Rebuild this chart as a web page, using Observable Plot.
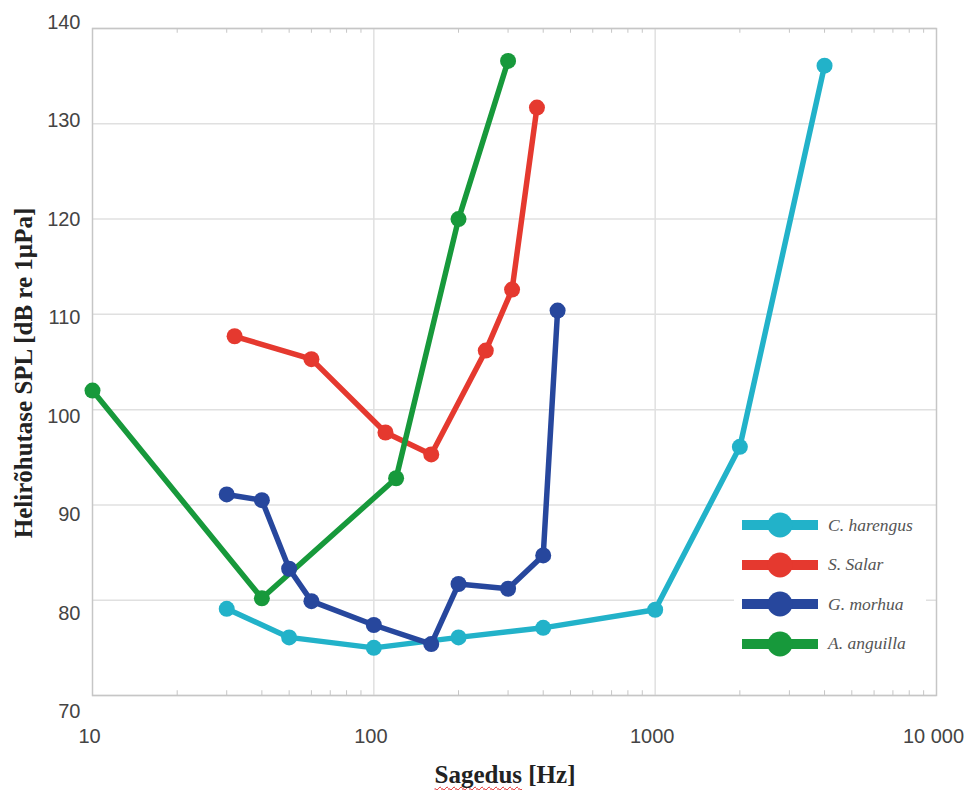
<!DOCTYPE html>
<html>
<head>
<meta charset="utf-8">
<script src="https://cdn.jsdelivr.net/npm/d3@7"></script>
<script src="https://cdn.jsdelivr.net/npm/@observablehq/plot@0.6"></script>
<style>
  html, body { margin: 0; padding: 0; background: #fff; }
  #wrap { position: relative; width: 964px; height: 790px; overflow: hidden; }
  #wrap > svg { position: absolute; left: 0; top: 0; }
  .title { position: absolute; font-family: "Liberation Serif", "Times New Roman", serif; font-weight: bold; font-size: 25px; color: #222; white-space: nowrap; transform: translate(-50%, -50%); }
  .ytitle { transform: translate(-50%, -50%) rotate(-90deg); }
  .squig { text-decoration: underline wavy #e02020; text-decoration-thickness: 1px; text-underline-offset: 3px; text-decoration-skip-ink: none; }
  #legend { position: absolute; left: 734px; top: 508px; width: 192px; height: 158px; background: #fff; }
  .lrow { position: absolute; left: 6px; height: 30px; display: flex; align-items: center; }
  .lrow svg { display: block; }
  .lrow span { font-family: "Liberation Serif", "Times New Roman", serif; font-style: italic; font-size: 17.5px; color: #555; margin-left: 8px; }
</style>
</head>
<body>
<div id="wrap"></div>
<script>
// ---- data ----
const species = ["C. harengus", "S. Salar", "G. morhua", "A. anguilla"];
const colors = ["#22b2c9", "#e5392f", "#27479d", "#17993b"];

const freqHarengus = [30, 50, 100, 200, 400, 1000, 2000, 4000];
const splHarengus  = [79.1, 76.1, 75.0, 76.1, 77.1, 79.0, 96.1, 136.1];

const freqSalar = [32, 60, 110, 160, 250, 310, 380];
const splSalar  = [107.7, 105.3, 97.6, 95.3, 106.2, 112.6, 131.7];

const freqMorhua = [30, 40, 50, 60, 100, 160, 200, 300, 400, 450];
const splMorhua  = [91.1, 90.5, 83.3, 79.9, 77.4, 75.4, 81.7, 81.2, 84.7, 110.4];

const freqAnguilla = [10, 40, 120, 200, 300];
const splAnguilla  = [102.0, 80.2, 92.8, 120.0, 136.6];

const yTicks = [70, 80, 90, 100, 110, 120, 130, 140];
const xTicks = [10, 100, 1000, 10000];
const xTickLabels = ["10", "100", "1000", "10 000"];
const xMinorTicks = [20, 30, 40, 50, 60, 70, 80, 90, 200, 300, 400, 500, 600, 700, 800, 900,
                     2000, 3000, 4000, 5000, 6000, 7000, 8000, 9000];
const xTitle = "Sagedus [Hz]";
const yTitle = "Helirõhutase SPL [dB re 1µPa]";

// ---- build table ----
const seriesFreqs = [freqHarengus, freqSalar, freqMorhua, freqAnguilla];
const seriesSpls = [splHarengus, splSalar, splMorhua, splAnguilla];
const rows = [];
species.forEach((s, k) => seriesFreqs[k].forEach((f, i) => rows.push({species: s, freq: f, spl: seriesSpls[k][i]})));
const drawOrder = ["C. harengus", "S. Salar", "A. anguilla", "G. morhua"];

const yMin = d3.min(yTicks), yMax = d3.max(yTicks);
const gridColor = "#e0e0e0", frameColor = "#c6c6c6", tickText = "#444";

const seriesMarks = drawOrder.flatMap(s => {
  const data = rows.filter(r => r.species === s);
  const c = colors[species.indexOf(s)];
  return [
    Plot.line(data, {x: "freq", y: "spl", stroke: c, strokeWidth: 5.5, strokeLinejoin: "round", strokeLinecap: "round"}),
    Plot.dot(data, {x: "freq", y: "spl", fill: c, r: 8})
  ];
});

const chart = Plot.plot({
  width: 964, height: 790,
  marginLeft: 92, marginRight: 28, marginTop: 28, marginBottom: 95,
  style: {background: "transparent", fontFamily: "'Liberation Sans', Arial, sans-serif"},
  x: {type: "log", domain: [xTicks[0], xTicks[xTicks.length - 1]]},
  y: {domain: [yMin, yMax]},
  marks: [
    Plot.gridY(yTicks, {stroke: gridColor, strokeOpacity: 1, strokeWidth: 1.5}),
    Plot.gridX(xTicks.slice(1, -1), {stroke: gridColor, strokeOpacity: 1, strokeWidth: 1.5}),
    Plot.ruleX(xMinorTicks, {y1: yMin, y2: yMin + 0.5, stroke: frameColor}),
    Plot.ruleX(xMinorTicks, {y1: yMax - 0.5, y2: yMax, stroke: frameColor}),
    Plot.frame({stroke: frameColor, strokeWidth: 1.5}),
    Plot.axisX(xTicks, {tickSize: 0, tickPadding: 33, dx: -3, fontSize: 20, fill: tickText, label: null,
      tickFormat: d => xTickLabels[xTicks.indexOf(d)]}),
    ...yTicks.map(v => Plot.axisY([v], {tickSize: 0, tickPadding: 12, fontSize: 20, fill: tickText, label: null,
      dy: (yMax - v) * 0.32 - 6})),
    ...seriesMarks
  ]
});

const wrap = document.getElementById("wrap");
wrap.appendChild(chart);

// axis titles
const yt = document.createElement("div");
yt.className = "title ytitle";
yt.style.left = "24px"; yt.style.top = "373px";
yt.textContent = yTitle;
wrap.appendChild(yt);

const xt = document.createElement("div");
xt.className = "title";
xt.style.left = "505px"; xt.style.top = "775px";
const [w1, ...rest] = xTitle.split(" ");
xt.innerHTML = `<span class="squig">${w1}</span> ${rest.join(" ")}`;
wrap.appendChild(xt);

// legend
const lg = document.createElement("div");
lg.id = "legend";
species.forEach((s, i) => {
  const row = document.createElement("div");
  row.className = "lrow";
  row.style.top = (2 + i * 39.5) + "px";
  row.innerHTML = `<svg width="80" height="30"><line x1="2" y1="15" x2="78" y2="15" stroke="${colors[i]}" stroke-width="10"/><circle cx="40" cy="15" r="12.5" fill="${colors[i]}"/></svg><span>${s}</span>`;
  lg.appendChild(row);
});
wrap.appendChild(lg);
</script>
</body>
</html>
